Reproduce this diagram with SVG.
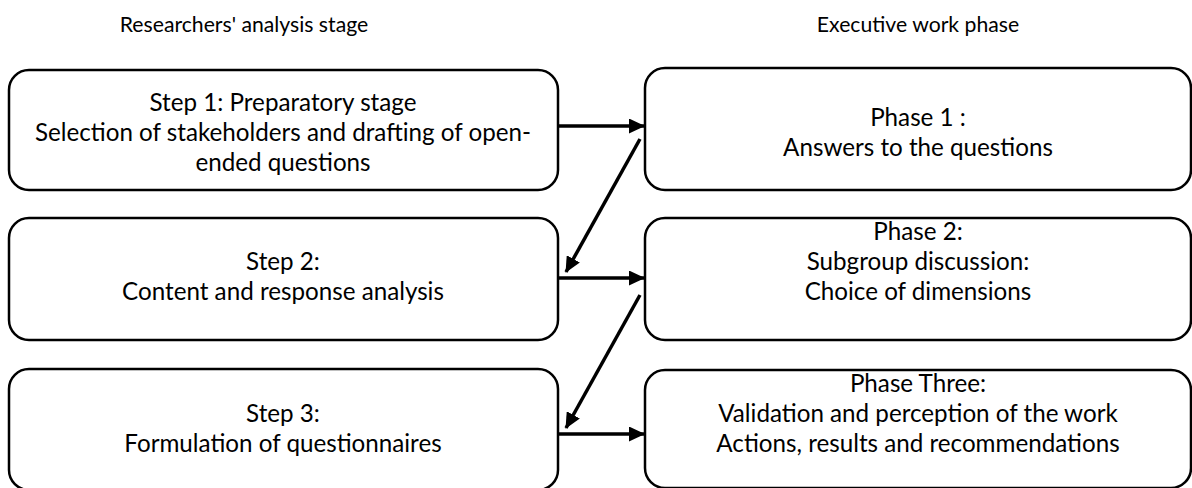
<svg xmlns="http://www.w3.org/2000/svg" width="1192" height="488" viewBox="0 0 1192 488">
<defs>
<style>
.box{fill:#fff;stroke:#000;stroke-width:2.5}
.t{font-family:Lato,"Open Sans","Liberation Sans",sans-serif;font-size:24.2px;fill:#000;text-anchor:middle}
.h{font-family:Lato,"Open Sans","Liberation Sans",sans-serif;font-size:21.2px;fill:#000;text-anchor:middle}
.c{stroke:#000;stroke-width:3.5;fill:none;marker-end:url(#ah)}
</style>
<marker id="ah" markerUnits="userSpaceOnUse" markerWidth="16" markerHeight="15" refX="15" refY="7.5" orient="auto">
<path d="M0,0 L16,7.5 L0,15 Z" fill="#000"/>
</marker>
</defs>
<rect width="1192" height="488" fill="#fff"/>
<text class="h" x="244" y="32">Researchers' analysis stage</text>
<text class="h" x="918" y="32">Executive work phase</text>
<g id="step1"><rect class="box" x="9" y="70" width="549" height="120" rx="20"/>
<text class="t" x="283" y="111">Step 1: Preparatory stage</text>
<text class="t" x="283" y="141">Selection of stakeholders and drafting of open-</text>
<text class="t" x="283" y="171">ended questions</text></g>
<g id="step2"><rect class="box" x="9" y="218" width="549" height="122" rx="20"/>
<text class="t" x="283" y="270">Step 2:</text>
<text class="t" x="283" y="300">Content and response analysis</text></g>
<g id="step3"><rect class="box" x="9" y="369" width="549" height="121" rx="20"/>
<text class="t" x="283" y="422">Step 3:</text>
<text class="t" x="283" y="452">Formulation of questionnaires</text></g>
<g id="phase1"><rect class="box" x="645" y="68" width="546" height="122" rx="20"/>
<text class="t" x="918" y="126">Phase 1 :</text>
<text class="t" x="918" y="156">Answers to the questions</text></g>
<g id="phase2"><rect class="box" x="645" y="218" width="546" height="122" rx="20"/>
<text class="t" x="918" y="240">Phase 2:</text>
<text class="t" x="918" y="270">Subgroup discussion:</text>
<text class="t" x="918" y="300">Choice of dimensions</text></g>
<g id="phase3"><rect class="box" x="645" y="370" width="546" height="118" rx="20"/>
<text class="t" x="918" y="392">Phase Three:</text>
<text class="t" x="918" y="422">Validation and perception of the work</text>
<text class="t" x="918" y="452">Actions, results and recommendations</text></g>
<g id="connectors">
<line class="c" x1="558" y1="126" x2="644" y2="126"/>
<line class="c" x1="640" y1="139" x2="566" y2="272"/>
<line class="c" x1="558" y1="278" x2="644" y2="278"/>
<line class="c" x1="640" y1="295" x2="566" y2="428"/>
<line class="c" x1="558" y1="434" x2="644" y2="434"/>
</g>
</svg>
